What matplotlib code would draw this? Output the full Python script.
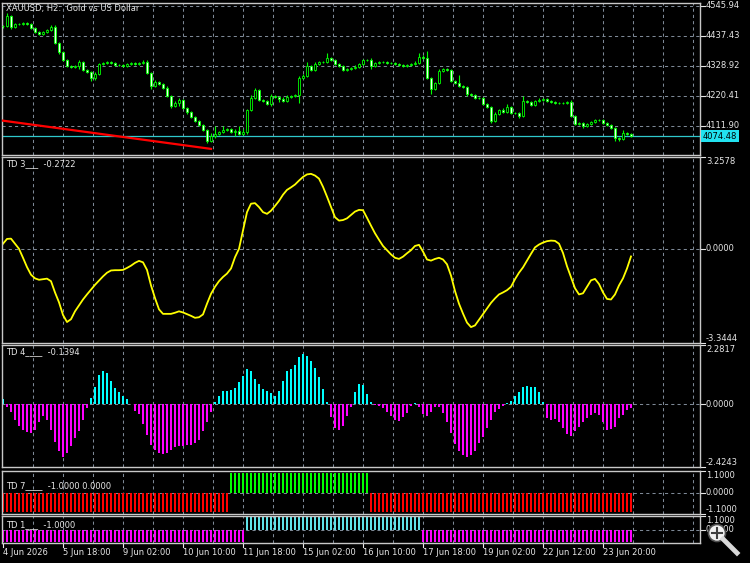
import matplotlib
matplotlib.use("Agg")
import matplotlib.pyplot as plt
from matplotlib.patches import Circle

# ---- XAUUSD H2 candles (one per bar) ----
opens = [4471, 4473, 4509, 4469, 4480, 4480, 4483, 4480, 4465, 4451,
         4444, 4451, 4458, 4469, 4411, 4378, 4350, 4328, 4324, 4328,
         4342, 4313, 4306, 4284, 4299, 4335, 4339, 4342, 4339, 4331,
         4331, 4328, 4335, 4339, 4335, 4339, 4342, 4302, 4255, 4270,
         4263, 4248, 4219, 4183, 4194, 4205, 4176, 4161, 4143, 4129,
         4114, 4096, 4057, 4075, 4082, 4089, 4096, 4100, 4089, 4093,
         4082, 4089, 4169, 4212, 4241, 4205, 4201, 4190, 4219, 4216,
         4208, 4201, 4216, 4219, 4223, 4284, 4292, 4328, 4313, 4335,
         4342, 4342, 4357, 4350, 4335, 4328, 4313, 4317, 4320, 4324,
         4335, 4350, 4350, 4328, 4339, 4342, 4342, 4339, 4339, 4335,
         4331, 4328, 4331, 4335, 4339, 4360, 4357, 4284, 4245, 4266,
         4310, 4317, 4313, 4274, 4266, 4255, 4252, 4227, 4223, 4212,
         4212, 4190, 4180, 4129, 4154, 4169, 4161, 4180, 4158, 4158,
         4147, 4201, 4198, 4187, 4201, 4205, 4208, 4201, 4198, 4194,
         4194, 4194, 4198, 4147, 4118, 4122, 4111, 4118, 4125, 4133,
         4133, 4122, 4114, 4104, 4067, 4064, 4086, 4082]
closes = [4473, 4509, 4469, 4480, 4480, 4483, 4480, 4465, 4451, 4444,
          4451, 4458, 4469, 4411, 4378, 4350, 4328, 4324, 4328, 4342,
          4313, 4306, 4284, 4299, 4335, 4339, 4342, 4339, 4331, 4331,
          4328, 4335, 4339, 4335, 4339, 4342, 4302, 4255, 4270, 4263,
          4248, 4219, 4183, 4194, 4205, 4176, 4161, 4143, 4129, 4114,
          4096, 4057, 4075, 4082, 4089, 4096, 4100, 4089, 4093, 4082,
          4089, 4169, 4212, 4241, 4205, 4201, 4190, 4219, 4216, 4208,
          4201, 4216, 4219, 4223, 4284, 4292, 4328, 4313, 4335, 4342,
          4342, 4357, 4350, 4335, 4328, 4313, 4317, 4320, 4324, 4335,
          4350, 4350, 4328, 4339, 4342, 4342, 4339, 4339, 4335, 4331,
          4328, 4331, 4335, 4339, 4360, 4357, 4284, 4245, 4266, 4310,
          4317, 4313, 4274, 4266, 4255, 4252, 4227, 4223, 4212, 4212,
          4190, 4180, 4129, 4154, 4169, 4161, 4180, 4158, 4158, 4147,
          4201, 4198, 4187, 4201, 4205, 4208, 4201, 4198, 4194, 4194,
          4194, 4198, 4147, 4118, 4122, 4111, 4118, 4125, 4133, 4133,
          4122, 4114, 4104, 4067, 4064, 4086, 4082, 4074.48]
wick_up = [4, 10, 4, 4, 5, 4, 4, 4, 3, 4,
           4, 4, 6, 6, 4, 4, 4, 4, 4, 6,
           4, 4, 4, 6, 5, 4, 4, 4, 4, 4,
           4, 4, 4, 4, 4, 6, 8, 4, 6, 4,
           4, 8, 4, 6, 6, 4, 4, 4, 4, 4,
           4, 4, 10, 30, 4, 15, 4, 4, 6, 18,
           10, 5, 12, 6, 4, 4, 4, 6, 4, 4,
           6, 8, 4, 4, 8, 6, 14, 4, 6, 4,
           4, 18, 4, 4, 4, 4, 4, 4, 6, 4,
           4, 4, 6, 4, 4, 4, 4, 4, 4, 4,
           4, 4, 4, 8, 15, 6, 25, 4, 4, 8,
           4, 4, 4, 4, 29, 4, 4, 4, 4, 4,
           4, 4, 4, 6, 4, 6, 10, 4, 4, 4,
           18, 4, 4, 4, 6, 4, 4, 4, 4, 4,
           4, 4, 8, 4, 4, 4, 4, 4, 4, 4,
           4, 4, 4, 4, 4, 12, 4, 4]
wick_dn = [4, 4, 8, 4, 4, 4, 4, 4, 4, 4,
           4, 4, 4, 4, 6, 4, 4, 4, 4, 10,
           4, 4, 12, 6, 4, 4, 4, 4, 4, 4,
           4, 4, 4, 4, 4, 4, 4, 10, 4, 4,
           4, 4, 6, 4, 12, 4, 8, 4, 4, 4,
           4, 6, 4, 8, 4, 4, 4, 4, 15, 4,
           4, 6, 4, 4, 4, 4, 4, 6, 4, 10,
           4, 4, 4, 4, 30, 4, 4, 4, 4, 4,
           4, 4, 4, 4, 4, 4, 4, 4, 4, 4,
           4, 4, 12, 4, 4, 4, 4, 4, 4, 4,
           4, 4, 4, 4, 4, 4, 4, 18, 4, 4,
           4, 4, 4, 4, 4, 4, 8, 4, 4, 4,
           4, 4, 6, 4, 4, 4, 4, 4, 4, 8,
           4, 4, 4, 4, 4, 4, 4, 4, 4, 4,
           4, 4, 4, 4, 4, 8, 4, 4, 4, 4,
           4, 4, 4, 10, 6, 4, 4, 4]

price_ticks = [4545.94, 4437.43, 4328.92, 4220.41, 4111.90]
last_price = 4074.48
trend_bars = [-1, 52]
trend_prices = [4132, 4028]

# ---- TD 3 (line) ----
td3 = [0.18, 0.35, 0.36, 0.18, 0.0, -0.32, -0.65, -0.92, -1.05, -1.10,
       -1.08, -1.06, -1.15, -1.55, -1.90, -2.35, -2.60, -2.50, -2.22, -2.01,
       -1.80, -1.62, -1.45, -1.28, -1.13, -0.98, -0.85, -0.77, -0.76, -0.76,
       -0.75, -0.68, -0.60, -0.50, -0.43, -0.48, -0.75, -1.30, -1.75, -2.15,
       -2.31, -2.31, -2.31, -2.27, -2.22, -2.26, -2.32, -2.38, -2.45, -2.43,
       -2.33, -1.95, -1.60, -1.35, -1.15, -1.00, -0.88, -0.70, -0.30, 0.00,
       0.65, 1.30, 1.60, 1.62, 1.48, 1.30, 1.24, 1.35, 1.52, 1.70,
       1.92, 2.09, 2.18, 2.28, 2.42, 2.55, 2.64, 2.66, 2.60, 2.49,
       2.20, 1.85, 1.48, 1.12, 1.00, 1.02, 1.08, 1.20, 1.32, 1.38,
       1.37, 1.10, 0.82, 0.55, 0.32, 0.10, -0.05, -0.20, -0.32, -0.36,
       -0.28, -0.16, -0.05, 0.10, 0.14, -0.10, -0.38, -0.42, -0.36, -0.32,
       -0.38, -0.55, -0.95, -1.50, -1.95, -2.30, -2.62, -2.78, -2.72, -2.52,
       -2.32, -2.12, -1.92, -1.76, -1.62, -1.55, -1.47, -1.35, -1.08, -0.85,
       -0.66, -0.42, -0.18, 0.05, 0.15, 0.22, 0.27, 0.29, 0.28, 0.18,
       -0.15, -0.62, -1.01, -1.40, -1.62, -1.58, -1.35, -1.12, -1.07, -1.25,
       -1.55, -1.78, -1.80, -1.62, -1.30, -1.05, -0.70, -0.2722]

# ---- TD 4 (histogram) ----
td4 = [0.20, -0.10, -0.30, -0.62, -0.86, -1.01, -1.09, -1.13, -0.98, -0.68,
       -0.45, -0.62, -0.98, -1.45, -1.80, -2.02, -1.90, -1.60, -1.32, -1.02,
       -0.62, -0.14, 0.25, 0.66, 1.13, 1.28, 1.20, 0.88, 0.64, 0.46,
       0.33, 0.18, 0.02, -0.25, -0.39, -0.78, -1.20, -1.58, -1.78, -1.88,
       -1.93, -1.87, -1.78, -1.67, -1.61, -1.62, -1.57, -1.56, -1.51, -1.37,
       -1.04, -0.70, -0.30, 0.10, 0.32, 0.49, 0.52, 0.53, 0.62, 0.84,
       1.10, 1.35, 1.27, 0.96, 0.77, 0.60, 0.49, 0.43, 0.33, 0.52,
       0.90, 1.26, 1.35, 1.50, 1.82, 1.92, 1.85, 1.65, 1.38, 1.06,
       0.58, 0.08, -0.48, -0.91, -1.00, -0.85, -0.45, -0.10, 0.45, 0.76,
       0.72, 0.38, 0.10, -0.04, -0.08, -0.13, -0.30, -0.46, -0.63, -0.64,
       -0.50, -0.35, -0.08, 0.03, -0.12, -0.38, -0.47, -0.30, -0.10, -0.11,
       -0.33, -0.70, -1.10, -1.55, -1.80, -1.98, -2.05, -1.95, -1.82, -1.50,
       -1.26, -0.92, -0.62, -0.30, -0.18, -0.07, 0.04, 0.13, 0.30, 0.45,
       0.66, 0.70, 0.68, 0.68, 0.45, 0.10, -0.55, -0.60, -0.59, -0.70,
       -0.91, -1.15, -1.23, -1.05, -0.88, -0.68, -0.55, -0.41, -0.36, -0.43,
       -0.70, -1.00, -0.95, -0.87, -0.55, -0.42, -0.22, -0.1394]

# ---- TD 7 / TD 1 (state bars, +1 / -1) ----
td7 = [-1] * 57 + [1] * 35 + [-1] * 66
td1 = [-1] * 61 + [1] * 44 + [-1] * 53

time_labels = ["4 Jun 2026", "5 Jun 18:00", "9 Jun 02:00", "10 Jun 10:00",
               "11 Jun 18:00", "15 Jun 02:00", "16 Jun 10:00", "17 Jun 18:00",
               "19 Jun 02:00", "22 Jun 12:00", "23 Jun 20:00"]
label_bars = [0, 15, 30, 45, 60, 75, 90, 105, 120, 135, 150]
grid_bars = [7.5 * k for k in range(1, 24)]

W, H = 750, 563
FG = "#e6e6e6"
GRID = "#7d8896"
LIME = "#00ff00"
FS = 6

fig = plt.figure(figsize=(7.5, 5.63), dpi=100, facecolor="black")
x = list(range(len(closes)))


def panel(top, bottom):
    ax = fig.add_axes([2 / W, 1 - bottom / H, 698 / W, (bottom - top) / H])
    ax.set_facecolor("black")
    for s in ax.spines.values():
        s.set_color("#c8c8c8")
        s.set_linewidth(1)
    ax.set_xticks([])
    ax.set_yticks([])
    ax.set_xlim(-0.25, 174.25)
    for g in grid_bars:
        ax.axvline(g, color=GRID, lw=0.75, ls=(0, (3, 3)), zorder=0)
    return ax


def rlabel(ax, v, s, va="center"):
    tr = ax.get_yaxis_transform()
    ax.plot([1, 1 + 5 / 698], [v, v], transform=tr, color=FG, lw=0.8, clip_on=False)
    ax.text(1 + 6 / 698, v, s, transform=tr, color=FG, fontsize=FS, va=va, ha="left")


def title(ax, s, ypix_from_top):
    ax.text(4 / 698, ypix_from_top, s, transform=ax.transAxes, color=FG,
            fontsize=FS, va="center", ha="left")


# main price panel
ax0 = panel(3, 155)
ax0.set_ylim(4005.9, 4555.7)
for p in price_ticks:
    ax0.axhline(p, color=GRID, lw=0.75, ls=(0, (3, 3)), zorder=0)
    rlabel(ax0, p, f"{p:.2f}")
highs = [max(o, c) + w for o, c, w in zip(opens, closes, wick_up)]
lows = [min(o, c) - w for o, c, w in zip(opens, closes, wick_dn)]
ax0.vlines(x, lows, highs, color=LIME, lw=0.8, zorder=2)
fills = ["black" if c >= o else "#e8ffe8" for o, c in zip(opens, closes)]
ax0.bar(x, [c - o for o, c in zip(opens, closes)], bottom=opens, width=0.6,
        color=fills, edgecolor=LIME, linewidth=0.6, zorder=3)
ax0.plot(trend_bars, trend_prices, color="#ff0000", lw=1.6, zorder=4)
ax0.axhline(last_price, color="#2fc8cc", lw=0.9, zorder=1)
ax0.text(1 + 3 / 698, last_price, f"{last_price:.2f}", transform=ax0.get_yaxis_transform(),
         color="black", fontsize=FS, va="center", ha="left",
         bbox=dict(boxstyle="square,pad=0.2", fc="#22e2f0", ec="none"))
title(ax0, "XAUUSD, H2:  Gold vs US Dollar", 1 - 5 / 152)

# TD 3
ax3 = panel(157, 343)
ax3.set_ylim(-3.3444, 3.2578)
ax3.axhline(0, color=GRID, lw=0.75, ls=(0, (3, 3)), zorder=0)
ax3.plot(x, td3, color="#ffff00", lw=1.3)
rlabel(ax3, 3.2578, "3.2578", va="top")
rlabel(ax3, 0, "0.0000")
rlabel(ax3, -3.3444, "-3.3444", va="bottom")
title(ax3, "TD 3___  -0.2722", 1 - 7 / 186)

# TD 4
ax4 = panel(345, 467)
ax4.set_ylim(-2.4243, 2.2817)
ax4.axhline(0, color=GRID, lw=0.75, ls=(0, (3, 3)), zorder=0)
ax4.bar(x, td4, width=0.5, color=["#00ffff" if v >= 0 else "#ff00ff" for v in td4],
        linewidth=0, antialiased=False)
rlabel(ax4, 2.2817, "2.2817", va="top")
rlabel(ax4, 0, "0.0000")
rlabel(ax4, -2.4243, "-2.4243", va="bottom")
title(ax4, "TD 4____  -0.1394", 1 - 7 / 122)

# TD 7
ax7 = panel(471, 514)
ax7.set_ylim(-1.1, 1.1)
ax7.axhline(0, color=GRID, lw=0.75, ls=(0, (3, 3)), zorder=0)
ax7.bar(x, td7, width=0.6, color=[LIME if v > 0 else "#ff0000" for v in td7],
        linewidth=0, antialiased=False)
rlabel(ax7, 1.1, "1.1000", va="top")
rlabel(ax7, 0, "0.0000")
rlabel(ax7, -1.1, "-1.1000", va="bottom")
title(ax7, "TD 7____  -1.0000 0.0000", 1 - 15 / 43)

# TD 1
ax1 = panel(516, 543)
ax1.set_ylim(-1.1, 1.1)
ax1.axhline(0, color=GRID, lw=0.75, ls=(0, (3, 3)), zorder=0)
ax1.bar(x, td1, width=0.6, color=["#5fe3e8" if v > 0 else "#ff00ff" for v in td1],
        linewidth=0, antialiased=False)
rlabel(ax1, 1.1, "1.1000", va="top")
rlabel(ax1, 0, "0.0000")
title(ax1, "TD 1___  -1.0000", 1 - 9 / 27)

# time axis
xt = ax1.get_xaxis_transform()
for b, s in zip(label_bars, time_labels):
    ax1.plot([b, b], [0, -4 / 27], transform=xt, color=FG, lw=0.8, clip_on=False)
    ax1.text(b - 0.1, -5 / 27, s, transform=xt, color=FG, fontsize=FS,
             va="top", ha="left")

# zoom button in the corner
fig.patches.append(Circle((7.17, 0.30), 0.085, transform=fig.dpi_scale_trans,
                          fc="#f2f2f2", ec="#505050", lw=1.2))
fig.lines.append(plt.Line2D([7.23, 7.37], [0.24, 0.10], transform=fig.dpi_scale_trans,
                            color="#d8d8d8", lw=3.5))
fig.lines.append(plt.Line2D([7.12, 7.22], [0.30, 0.30], transform=fig.dpi_scale_trans,
                            color="#404040", lw=1.5))
fig.lines.append(plt.Line2D([7.17, 7.17], [0.25, 0.35], transform=fig.dpi_scale_trans,
                            color="#404040", lw=1.5))

fig.savefig("out.png", dpi=100, facecolor="black")
